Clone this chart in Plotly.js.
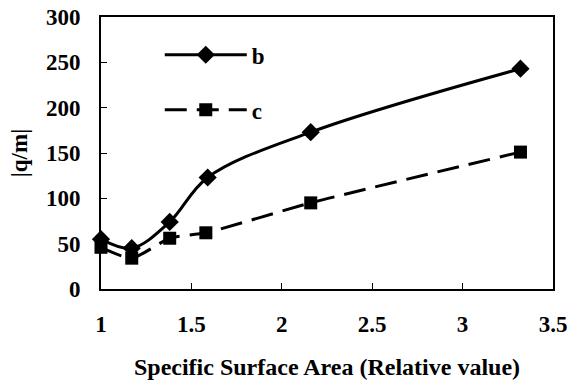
<!DOCTYPE html>
<html>
<head>
<meta charset="utf-8">
<script src="https://cdn.plot.ly/plotly-3.0.1.min.js"></script>
<style>html,body{margin:0;padding:0;background:#fff;}#chart{width:568px;height:380px;}</style>
</head>
<body>
<div id="chart"></div>
<script>
// Data
const xB = [1.0, 1.17, 1.38, 1.59, 2.16, 3.32];
const yB = [55, 45, 74, 123, 173, 243];
const xC = [1.0, 1.17, 1.38, 1.58, 2.16, 3.32];
const yC = [46, 34, 56, 62, 95, 151];
const seriesNames = ['b', 'c'];
const xTicks = [1, 1.5, 2, 2.5, 3, 3.5];
const yTicks = [0, 50, 100, 150, 200, 250, 300];

const font = 'Liberation Serif';
const fs = 23;
const bold = s => '<b>' + s + '</b>';

const traces = [
  {
    x: xB, y: yB, name: bold(seriesNames[0]), type: 'scatter', mode: 'lines+markers',
    line: {color: '#000', width: 3, shape: 'spline', smoothing: 1},
    marker: {symbol: 'diamond', size: 14, color: '#000'},
    legendgroup: 'b', cliponaxis: false
  },
  {
    x: xC, y: yC, name: bold(seriesNames[1]), type: 'scatter', mode: 'lines+markers',
    line: {color: '#000', width: 3, dash: '22px,10px', shape: 'spline', smoothing: 0.6},
    marker: {symbol: 'square', size: 13, color: '#000'},
    legendgroup: 'c', cliponaxis: false
  }
];

const layout = {
  width: 568, height: 380,
  margin: {l: 101, r: 15, t: 17, b: 91},
  paper_bgcolor: '#fff', plot_bgcolor: '#fff',
  font: {family: font, size: fs, color: '#000'},
  showlegend: true,
  legend: {
    x: 0.13, y: 0.94, xanchor: 'left', yanchor: 'top',
    bgcolor: 'rgba(0,0,0,0)', borderwidth: 0,
    font: {family: font, size: fs, color: '#000'},
    traceorder: 'grouped', tracegroupgap: 22, itemwidth: 82
  },
  xaxis: {
    range: [1, 3.5], tickvals: xTicks, ticktext: xTicks.map(v => bold(String(v))),
    ticks: 'inside', ticklen: 6, tickwidth: 1, tickcolor: '#000',
    showline: true, linecolor: '#000', linewidth: 2, mirror: true,
    showgrid: false, zeroline: false, ticklabelstandoff: 13,
    tickfont: {family: font, size: fs, color: '#000'},
    title: {text: bold('Specific Surface Area (Relative value)'), standoff: 24,
            font: {family: font, size: 24, color: '#000'}}
  },
  yaxis: {
    range: [0, 300], tickvals: yTicks, ticktext: yTicks.map(v => bold(String(v))),
    ticks: 'inside', ticklen: 6, tickwidth: 1, tickcolor: '#000',
    showline: true, linecolor: '#000', linewidth: 2, mirror: true,
    showgrid: false, zeroline: false, ticklabelstandoff: 14,
    tickfont: {family: font, size: fs, color: '#000'},
    title: {text: bold('|q/m|'), standoff: 12,
            font: {family: font, size: fs, color: '#000'}}
  }
};

Plotly.newPlot('chart', traces, layout, {displayModeBar: false, staticPlot: true});
</script>
</body>
</html>
